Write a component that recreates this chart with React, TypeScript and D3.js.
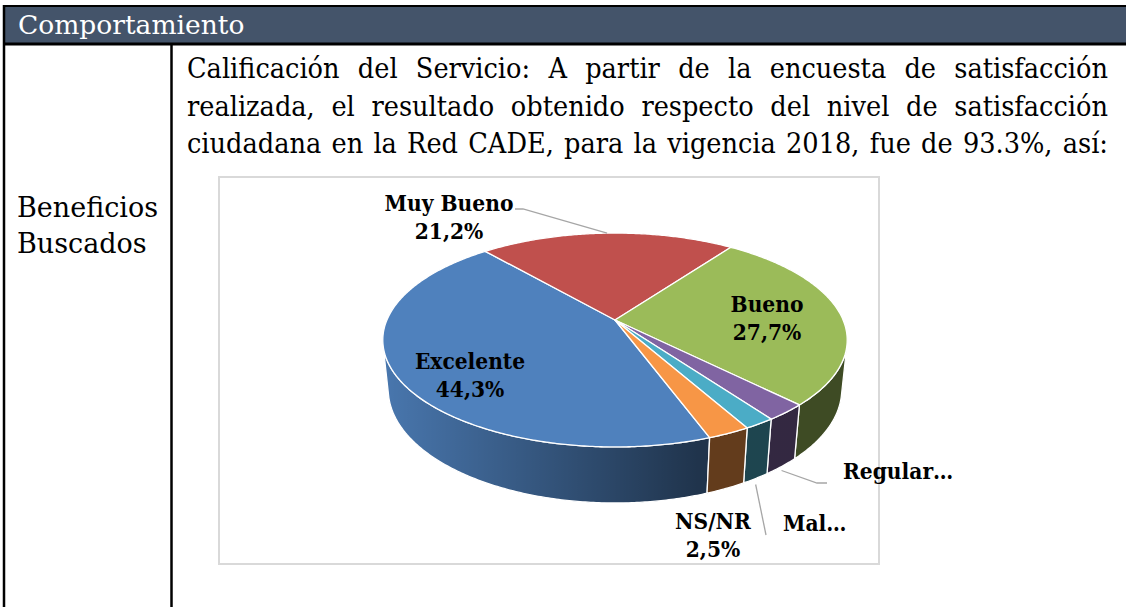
import React, { useEffect, useRef } from "react";
import * as d3 from "d3";

// ---- data ----
const categories = ["Excelente", "Muy Bueno", "Bueno", "Regular", "Mal", "NS/NR"];
const values = [44.3, 21.2, 27.7, 2.5, 1.8, 2.5];
const colors = ["#4f81bd", "#c0504d", "#9bbb59", "#8064a2", "#4bacc6", "#f79646"];
const valueLabels = ["44,3%", "21,2%", "27,7%", "", "", "2,5%"];
const shortNames = ["Excelente", "Muy Bueno", "Bueno", "Regular…", "Mal…", "NS/NR"];
const headerText = "Comportamiento";
const rowLabel = ["Beneficios", "Buscados"];
const bodyLines = [
  "Calificación del Servicio: A partir de la encuesta de satisfacción",
  "realizada, el resultado obtenido respecto del nivel de satisfacción",
  "ciudadana en la Red CADE, para la vigencia 2018, fue de 93.3%, así:",
];

// ---- layout (not data) ----
const W = 1126;
const H = 607;
const CX = 615;
const CY = 320;
const FOCAL = 1088;
const CAM = 4.77;
const PHI = (26.9 * Math.PI) / 180;
const DEPTH = 0.245;
const START = (160 * Math.PI) / 180;

const labelLayout = [
  { x: 470, y: 369, anchor: "middle" },
  { x: 449, y: 211, anchor: "middle" },
  { x: 767, y: 312, anchor: "middle" },
  { x: 843, y: 479, anchor: "start" },
  { x: 783, y: 531, anchor: "start" },
  { x: 713, y: 529, anchor: "middle" },
];
const leaderLayout: { [k: number]: { start: "top" | "bottom"; off: number; pts: [number, number][] } } = {
  1: { start: "top", off: 0, pts: [[523, 209], [515, 209]] },
  3: { start: "bottom", off: 4, pts: [[817, 483], [827, 483]] },
  4: { start: "bottom", off: 6, pts: [[766, 535]] },
};

const SERIF_C = "'DejaVu Serif Condensed', 'DejaVu Serif', serif";
const SERIF = "'DejaVu Serif', serif";

function project(theta: number, z: number, r = 1): [number, number] {
  const px = r * Math.sin(theta);
  const py = r * Math.cos(theta);
  const c = Math.cos(PHI);
  const s = Math.sin(PHI);
  const d = py * c + CAM - z * s;
  const sy = py * s + z * c;
  return [CX + (FOCAL * px) / d, CY - (FOCAL * sy) / d];
}

function arcPts(a0: number, a1: number, z: number): [number, number][] {
  const n = Math.max(2, Math.ceil(Math.abs(a1 - a0) / 0.01));
  const pts: [number, number][] = [];
  for (let i = 0; i <= n; i++) pts.push(project(a0 + ((a1 - a0) * i) / n, z));
  return pts;
}

export default function App() {
  const ref = useRef<SVGSVGElement>(null);

  useEffect(() => {
    const svg = d3.select(ref.current);
    svg.selectAll("*").remove();

    const defs = svg.append("defs");
    const g = defs
      .append("linearGradient")
      .attr("id", "wallShade")
      .attr("gradientUnits", "userSpaceOnUse")
      .attr("x1", 383)
      .attr("x2", 848)
      .attr("y1", 0)
      .attr("y2", 0);
    g.append("stop").attr("offset", 0).attr("stop-color", "#000").attr("stop-opacity", 0.08);
    g.append("stop").attr("offset", 0.68).attr("stop-color", "#000").attr("stop-opacity", 0.6);
    g.append("stop").attr("offset", 1).attr("stop-color", "#000").attr("stop-opacity", 0.6);

    // ---- table frame ----
    svg.append("rect").attr("x", 0).attr("y", 0).attr("width", W).attr("height", H).attr("fill", "#fff");
    svg.append("rect").attr("x", 3).attr("y", 6).attr("width", W - 3).attr("height", 37).attr("fill", "#44546a");
    svg.append("line").attr("x1", 3).attr("x2", W).attr("y1", 6).attr("y2", 6).attr("stroke", "#000").attr("stroke-width", 2);
    svg.append("line").attr("x1", 3).attr("x2", W).attr("y1", 44).attr("y2", 44).attr("stroke", "#000").attr("stroke-width", 3);
    svg.append("line").attr("x1", 4).attr("x2", 4).attr("y1", 5).attr("y2", H).attr("stroke", "#000").attr("stroke-width", 2.5);
    svg.append("line").attr("x1", 171.5).attr("x2", 171.5).attr("y1", 44).attr("y2", H).attr("stroke", "#000").attr("stroke-width", 2.5);

    const hdr = svg
      .append("text")
      .attr("x", 18)
      .attr("y", 34)
      .attr("fill", "#fff")
      .attr("font-family", SERIF)
      .attr("font-size", 26.5)
      .text(headerText);
    const hn = hdr.node() as SVGTextElement;
    if (Math.abs(hn.getComputedTextLength() - 230) > 6) {
      hdr.attr("textLength", 230).attr("lengthAdjust", "spacingAndGlyphs");
    }

    rowLabel.forEach((t, i) => {
      svg
        .append("text")
        .attr("x", 17)
        .attr("y", 217 + i * 36)
        .attr("fill", "#000")
        .attr("font-family", SERIF)
        .attr("font-size", 27)
        .text(t);
    });

    // justified body text
    const bodyX = 187;
    const bodyW = 921;
    bodyLines.forEach((t, i) => {
      const tx = svg
        .append("text")
        .attr("x", bodyX)
        .attr("y", 78 + i * 37.5)
        .attr("fill", "#000")
        .attr("font-family", SERIF_C)
        .attr("font-stretch", "condensed")
        .attr("font-size", 28.5)
        .text(t);
      const node = tx.node() as SVGTextElement;
      const natural = node.getComputedTextLength();
      const spaces = (t.match(/ /g) || []).length;
      const ws = (bodyW - natural) / spaces;
      if (ws > -3) {
        tx.attr("word-spacing", ws);
      } else {
        tx.attr("textLength", bodyW).attr("lengthAdjust", "spacingAndGlyphs");
      }
    });

    // chart box
    svg
      .append("rect")
      .attr("x", 219)
      .attr("y", 177)
      .attr("width", 660)
      .attr("height", 387)
      .attr("fill", "#fff")
      .attr("stroke", "#d9d9d9")
      .attr("stroke-width", 2);

    // ---- 3D pie ----
    const pie = d3
      .pie<number>()
      .sort(null)
      .startAngle(START)
      .endAngle(START + 2 * Math.PI);
    const arcs = pie(values);

    const visLimit = Math.acos(-1 / (CAM * Math.cos(PHI)));
    const vis0 = visLimit;
    const vis1 = 2 * Math.PI - visLimit;

    const line = d3.line();
    const wallsG = svg.append("g");
    arcs.forEach((a, i) => {
      [0, 2 * Math.PI].forEach((shift) => {
        const b0 = Math.max(a.startAngle, vis0 + shift);
        const b1 = Math.min(a.endAngle, vis1 + shift);
        if (b1 <= b0) return;
        const top = arcPts(b0, b1, 0);
        const bot = arcPts(b1, b0, -DEPTH);
        const d = line([...top, ...bot]) + "Z";
        wallsG.append("path").attr("d", d).attr("fill", colors[i]);
        wallsG
          .append("path")
          .attr("d", d)
          .attr("fill", "url(#wallShade)")
          .attr("stroke", "#fff")
          .attr("stroke-width", 1.3)
          .attr("stroke-linejoin", "round");
      });
    });

    const topG = svg.append("g");
    const apex = project(0, 0, 0);
    arcs.forEach((a, i) => {
      const pts = [apex, ...arcPts(a.startAngle, a.endAngle, 0)];
      topG
        .append("path")
        .attr("d", line(pts) + "Z")
        .attr("fill", colors[i])
        .attr("stroke", "#fff")
        .attr("stroke-width", 1.3)
        .attr("stroke-linejoin", "round");
    });

    // leader lines
    Object.keys(leaderLayout).forEach((k) => {
      const i = +k;
      const L = leaderLayout[i];
      const mid = (arcs[i].startAngle + arcs[i].endAngle) / 2;
      const p = L.start === "top" ? project(mid, 0) : project(mid, -DEPTH);
      const s: [number, number] = [p[0], p[1] + L.off];
      svg
        .append("path")
        .attr("d", line([s, ...L.pts]))
        .attr("fill", "none")
        .attr("stroke", "#a6a6a6")
        .attr("stroke-width", 1.3);
    });

    // data labels
    arcs.forEach((a, i) => {
      const lay = labelLayout[i];
      const t = svg
        .append("text")
        .attr("font-family", SERIF_C)
        .attr("font-stretch", "condensed")
        .attr("font-weight", "bold")
        .attr("font-size", 22.5)
        .attr("fill", "#000")
        .attr("text-anchor", lay.anchor);
      t.append("tspan").attr("x", lay.x).attr("y", lay.y).text(shortNames[i]);
      if (valueLabels[i]) t.append("tspan").attr("x", lay.x).attr("y", lay.y + 27.5).text(valueLabels[i]);
    });
  }, []);

  return (
    <svg
      ref={ref}
      width={W}
      height={H}
      style={{ position: "absolute", left: 0, top: 0, display: "block" }}
    />
  );
}
